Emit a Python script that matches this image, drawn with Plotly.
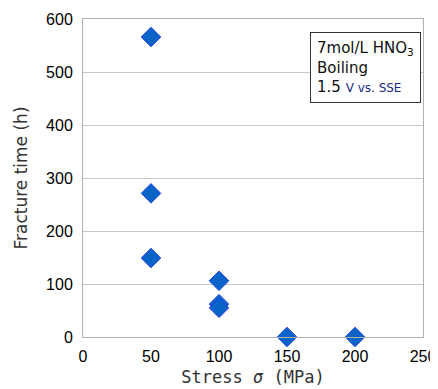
import plotly.graph_objects as go

stress = [50, 50, 50, 100, 100, 100, 150, 200]
fracture_time = [566, 271, 149, 106, 62, 55, 0, 0]

x_ticks = [0, 50, 100, 150, 200, 250]
y_ticks = [0, 100, 200, 300, 400, 500, 600]

tick_font = "Liberation Sans, Arial, sans-serif"
title_font = "DejaVu Sans, Noto Sans, sans-serif"
mono_font = "DejaVu Sans Mono, monospace"

fig = go.Figure()
fig.add_trace(go.Scatter(
    x=stress, y=fracture_time, mode="markers",
    marker=dict(symbol="diamond", size=15, color="#0A64C8",
                line=dict(color="#1E3CE6", width=1)),
    cliponaxis=False, showlegend=False,
))

fig.update_layout(
    width=430, height=381,
    margin=dict(l=75, r=15, t=11, b=52),
    paper_bgcolor="white", plot_bgcolor="white",
    font=dict(family=tick_font, color="black", size=16),
    xaxis=dict(range=[0, 250], tickvals=x_ticks, showgrid=False,
               showline=True, linecolor="#B0B0B0", linewidth=1, mirror=True,
               ticks="", zeroline=False, automargin=False,
               ticklabelstandoff=5,
               tickfont=dict(family=tick_font, size=16, color="black"),
               title=dict(text="Stress <i>σ</i> (MPa)", standoff=6,
                          font=dict(family=mono_font, size=17, color="#333333"))),
    yaxis=dict(range=[0, 600], tickvals=y_ticks, showgrid=True,
               gridcolor="#C8C8C8", gridwidth=1,
               showline=True, linecolor="#B0B0B0", linewidth=1, mirror=True,
               ticks="", zeroline=False, automargin=False,
               ticklabelstandoff=6,
               tickfont=dict(family=tick_font, size=16, color="black"),
               title=dict(text="Fracture time (h)", standoff=14,
                          font=dict(family=title_font, size=17, color="#333333"))),
)

fig.add_annotation(
    xref="paper", yref="paper", x=0.993, y=0.96, xanchor="right", yanchor="top",
    text="7mol/L HNO<sub>3</sub><br>Boiling<br>1.5 <span style='color:#1a2a80;font-size:12px'>V vs. SSE</span>",
    showarrow=False, align="left", bordercolor="#333333", borderwidth=1,
    borderpad=6, bgcolor="white",
    font=dict(family=title_font, size=15, color="#111111"),
)

fig.write_html("out.html")
